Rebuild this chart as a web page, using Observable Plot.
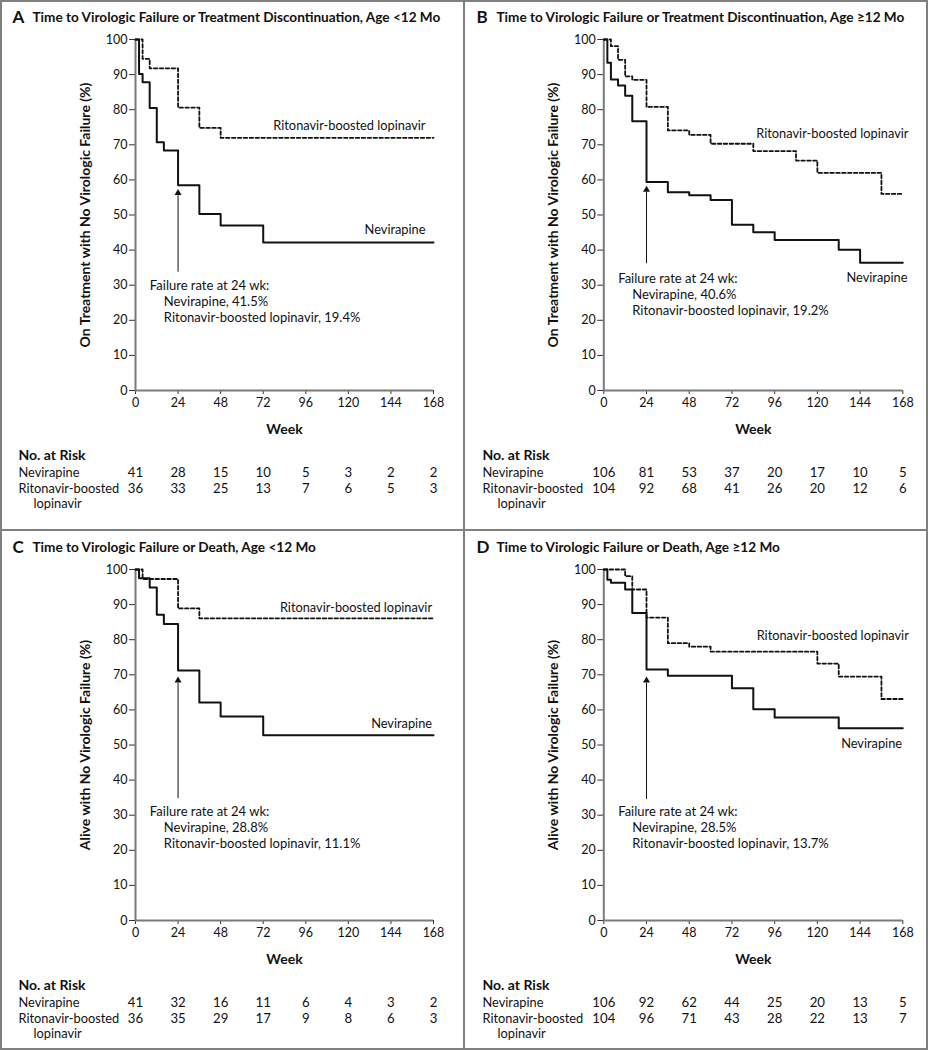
<!DOCTYPE html>
<html><head><meta charset="utf-8">
<script src="https://cdn.jsdelivr.net/npm/d3@7"></script>
<script src="https://cdn.jsdelivr.net/npm/@observablehq/plot@0.6"></script>
<style>
body{margin:0;background:#fff;font-family:Lato,sans-serif;}
#fig{position:relative;width:928px;height:1050px;overflow:hidden;}
.panel{position:absolute;}
.rule{position:absolute;background:#808080;z-index:5;}
</style></head><body>
<div id="fig"></div>
<script>
const weekTicks = [0, 24, 48, 72, 96, 120, 144, 168];
const pctTicks = [0, 10, 20, 30, 40, 50, 60, 70, 80, 90, 100];
const nevName = "Nevirapine";
const ritName = "Ritonavir-boosted lopinavir";

// Panel A
const titleA = "Time to Virologic Failure or Treatment Discontinuation, Age <12 Mo";
const nevWeekA = [0, 2, 4, 8, 12, 16, 24, 36, 48, 72, 168];
const nevSurvA = [100, 90.2, 87.8, 80.5, 70.7, 68.4, 58.5, 50.3, 47.0, 42.2, 42.2];
const ritWeekA = [0, 4, 8, 24, 36, 48, 168];
const ritSurvA = [100, 94.5, 91.8, 80.6, 74.8, 72.0, 72.0];
const nevRiskA = [41, 28, 15, 10, 5, 3, 2, 2];
const ritRiskA = [36, 33, 25, 13, 7, 6, 5, 3];
const failA = ["41.5%", "19.4%"];

// Panel B
const titleB = "Time to Virologic Failure or Treatment Discontinuation, Age \u226512 Mo";
const nevWeekB = [0, 2, 4, 8, 12, 16, 24, 36, 48, 60, 72, 84, 96, 132, 144, 168];
const nevSurvB = [100, 93.4, 88.6, 86.9, 84.0, 76.7, 59.4, 56.5, 55.6, 54.3, 47.2, 45.1, 42.9, 40.1, 36.4, 36.4];
const ritWeekB = [0, 4, 8, 12, 16, 24, 36, 48, 60, 84, 108, 120, 156, 168];
const ritSurvB = [100, 98.1, 94.2, 89.5, 88.5, 80.8, 74.1, 72.8, 70.3, 68.2, 65.5, 62.0, 56.0, 56.0];
const nevRiskB = [106, 81, 53, 37, 20, 17, 10, 5];
const ritRiskB = [104, 92, 68, 41, 26, 20, 12, 6];
const failB = ["40.6%", "19.2%"];

// Panel C
const titleC = "Time to Virologic Failure or Death, Age <12 Mo";
const nevWeekC = [0, 2, 8, 12, 16, 24, 36, 48, 72, 168];
const nevSurvC = [100, 97.5, 94.9, 87.1, 84.5, 71.2, 62.1, 58.1, 52.8, 52.8];
const ritWeekC = [0, 4, 24, 36, 168];
const ritSurvC = [100, 97.3, 88.9, 86.1, 86.1];
const nevRiskC = [41, 32, 16, 11, 6, 4, 3, 2];
const ritRiskC = [36, 35, 29, 17, 9, 8, 6, 3];
const failC = ["28.8%", "11.1%"];

// Panel D
const titleD = "Time to Virologic Failure or Death, Age \u226512 Mo";
const nevWeekD = [0, 2, 4, 12, 16, 24, 36, 72, 84, 96, 132, 168];
const nevSurvD = [100, 97.1, 96.2, 94.3, 87.6, 71.5, 69.7, 66.2, 60.2, 57.8, 54.8, 54.8];
const ritWeekD = [0, 12, 16, 24, 36, 48, 60, 120, 132, 156, 168];
const ritSurvD = [100, 98.1, 94.3, 86.3, 79.0, 78.0, 76.6, 73.2, 69.5, 63.1, 63.1];
const nevRiskD = [106, 92, 62, 44, 25, 20, 13, 5];
const ritRiskD = [104, 96, 71, 43, 28, 22, 13, 7];
const failD = ["28.5%", "13.7%"];

const ylabTop = "On Treatment with No Virologic Failure (%)";
const ylabBottom = "Alive with No Virologic Failure (%)";

const ink = "#111";
const FS = 13;
const LS = 12.8;

function makePanel(cfg) {
  const nev = cfg.nevW.map((w, i) => ({week: w, surv: cfg.nevS[i]}));
  const rit = cfg.ritW.map((w, i) => ({week: w, surv: cfg.ritS[i]}));
  const top = 39, bottom = 390;
  const ml = cfg.ml;
  return Plot.plot({
    width: 464,
    height: cfg.height,
    marginLeft: ml,
    marginRight: cfg.mr,
    marginTop: top,
    marginBottom: cfg.height - bottom,
    style: {fontFamily: "Lato, sans-serif", fontSize: FS + "px", color: ink, background: "transparent", overflow: "visible"},
    x: {domain: [0, 168]},
    y: {domain: [0, 100]},
    marks: [
      Plot.axisY({ticks: pctTicks, tickSize: 6, tickPadding: 2, label: null, stroke: "#333", fontSize: 12.5}),
      Plot.axisX({ticks: weekTicks, tickSize: 4, tickPadding: 4, label: null, stroke: "#333", fontSize: 12.5}),
      Plot.ruleX([0], {stroke: "#7a7a7a", strokeWidth: 2}),
      Plot.ruleY([0], {stroke: "#7a7a7a", strokeWidth: 2}),
      Plot.line(rit, {x: "week", y: "surv", curve: "step-after", stroke: ink, strokeWidth: 1.8, strokeDasharray: "3.5,2.4"}),
      Plot.line(nev, {x: "week", y: "surv", curve: "step-after", stroke: ink, strokeWidth: 2}),
      // curve labels
      Plot.text([ritName], {x: cfg.ritLab[0], y: cfg.ritLab[1], textAnchor: "end", fontSize: LS}),
      Plot.text([nevName], {x: cfg.nevLab[0], y: cfg.nevLab[1], textAnchor: "end", fontSize: LS}),
      // arrow
      Plot.ruleX([24], {y1: cfg.arrow[0], y2: cfg.arrow[1] - 2, stroke: ink, strokeWidth: 1}),
      Plot.dot([24], {x: d => d, y: cfg.arrow[1], symbol: "triangle", r: 2.6, fill: ink, stroke: null, dy: 4.3}),
      // annotation
      Plot.text(["Failure rate at 24 wk:"], {x: 8.1, y: cfg.note, textAnchor: "start", fontSize: FS}),
      Plot.text([nevName + ", " + cfg.fail[0]], {x: 8.1, y: cfg.note, dx: 14, dy: 16, textAnchor: "start", fontSize: FS}),
      Plot.text([ritName + ", " + cfg.fail[1]], {x: 8.1, y: cfg.note, dx: 14, dy: 32, textAnchor: "start", fontSize: FS}),
      // title
      Plot.text([cfg.letter], {frameAnchor: "top-left", dx: 12 - ml, dy: 17 - top, lineAnchor: "middle", textAnchor: "start", fontWeight: "bold", fontSize: 17}),
      Plot.text([cfg.title], {frameAnchor: "top-left", dx: 32 - ml, dy: 17 - top, lineAnchor: "middle", textAnchor: "start", fontWeight: "bold", fontSize: 13.6}),
      // y label
      Plot.text([cfg.ylab], {frameAnchor: "left", dx: -50, rotate: -90, textAnchor: "middle", lineAnchor: "middle", fontWeight: "bold", fontSize: 14}),
      // x label
      Plot.text(["Week"], {frameAnchor: "bottom", dy: 39, lineAnchor: "middle", fontWeight: "bold", fontSize: 14}),
      // risk table
      Plot.text(["No. at Risk"], {frameAnchor: "bottom-left", dx: 18 - ml, dy: 65, lineAnchor: "middle", textAnchor: "start", fontWeight: "bold", fontSize: 14}),
      Plot.text([nevName], {frameAnchor: "bottom-left", dx: 18 - ml, dy: 82, lineAnchor: "middle", textAnchor: "start", fontSize: LS}),
      Plot.text(["Ritonavir-boosted"], {frameAnchor: "bottom-left", dx: 18 - ml, dy: 98, lineAnchor: "middle", textAnchor: "start", fontSize: LS}),
      Plot.text(["lopinavir"], {frameAnchor: "bottom-left", dx: 33 - ml, dy: 113, lineAnchor: "middle", textAnchor: "start", fontSize: LS}),
      Plot.text(weekTicks, {x: d => d, text: (d, i) => String(cfg.nevRisk[i]), frameAnchor: "bottom", dy: 82, lineAnchor: "middle", fontSize: 13.2}),
      Plot.text(weekTicks, {x: d => d, text: (d, i) => String(cfg.ritRisk[i]), frameAnchor: "bottom", dy: 98, lineAnchor: "middle", fontSize: 13.2})
    ]
  });
}

const panels = [
  {letter: "A", title: titleA, ylab: ylabTop, nevW: nevWeekA, nevS: nevSurvA, ritW: ritWeekA, ritS: ritSurvA,
   nevRisk: nevRiskA, ritRisk: ritRiskA, fail: failA, ml: 135, mr: 31, height: 530,
   ritLab: [163.5, 75.5], nevLab: [163.5, 45.9], arrow: [33.7, 57.5], note: 29.9, left: 0, top: 0},
  {letter: "B", title: titleB, ylab: ylabTop, nevW: nevWeekB, nevS: nevSurvB, ritW: ritWeekB, ritS: ritSurvB,
   nevRisk: nevRiskB, ritRisk: ritRiskB, fail: failB, ml: 139.3, mr: 25.7, height: 530,
   ritLab: [171.2, 73.2], nevLab: [170.6, 32.2], arrow: [36.1, 58.4], note: 31.9, left: 464, top: 0},
  {letter: "C", title: titleC, ylab: ylabBottom, nevW: nevWeekC, nevS: nevSurvC, ritW: ritWeekC, ritS: ritSurvC,
   nevRisk: nevRiskC, ritRisk: ritRiskC, fail: failC, ml: 135, mr: 31, height: 520,
   ritLab: [167.2, 89.1], nevLab: [167.2, 56.0], arrow: [34.7, 69.6], note: 30.9, left: 0, top: 530},
  {letter: "D", title: titleD, ylab: ylabBottom, nevW: nevWeekD, nevS: nevSurvD, ritW: ritWeekD, ritS: ritSurvD,
   nevRisk: nevRiskD, ritRisk: ritRiskD, fail: failD, ml: 139.3, mr: 25.7, height: 520,
   ritLab: [171.4, 81.2], nevLab: [167.6, 50.3], arrow: [34.5, 69.6], note: 30.9, left: 464, top: 530}
];

const fig = document.getElementById("fig");
for (const p of panels) {
  const div = document.createElement("div");
  div.className = "panel";
  div.style.left = p.left + "px";
  div.style.top = p.top + "px";
  div.appendChild(makePanel(p));
  fig.appendChild(div);
}
// frame rules
const rules = [
  [0, 0, 928, 2], [0, 1048, 928, 2], [0, 0, 2, 1050], [926, 0, 2, 1050],
  [463, 0, 2, 1050], [0, 529, 928, 2]
];
for (const [l, t, w, h] of rules) {
  const r = document.createElement("div");
  r.className = "rule";
  Object.assign(r.style, {left: l + "px", top: t + "px", width: w + "px", height: h + "px"});
  fig.appendChild(r);
}
</script>
</body></html>
